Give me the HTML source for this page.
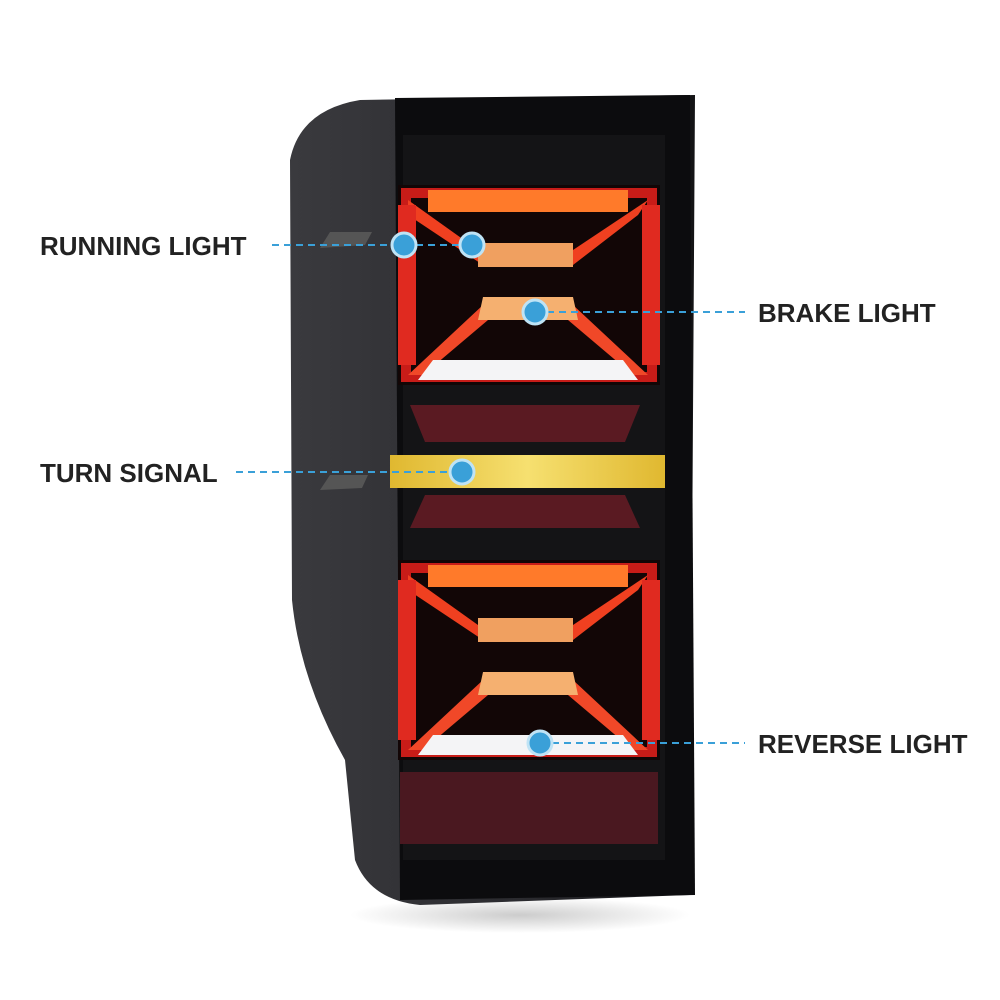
<!DOCTYPE html>
<html><head><meta charset="utf-8"><style>
html,body{margin:0;padding:0;background:#fff;width:1000px;height:1000px;overflow:hidden}
.t{position:absolute;font-family:"Liberation Sans",sans-serif;font-weight:bold;font-size:26px;color:#222;letter-spacing:0px}
</style></head><body>
<svg width="1000" height="1000" style="position:absolute;left:0;top:0">
<defs>
<radialGradient id="sh" cx="0.5" cy="0.5" r="0.5"><stop offset="0" stop-color="#ccc"/><stop offset="1" stop-color="#fff"/></radialGradient>
<linearGradient id="side" x1="0" x2="1"><stop offset="0" stop-color="#3a3a3e"/><stop offset="0.6" stop-color="#2a2a2e"/><stop offset="1" stop-color="#141416"/></linearGradient>
<linearGradient id="yel" x1="0" x2="1"><stop offset="0" stop-color="#e0b830"/><stop offset="0.5" stop-color="#f6e070"/><stop offset="1" stop-color="#e0b830"/></linearGradient>
<g id="xmod">
 <rect x="0" y="0" width="262" height="200" fill="#120606"/>
 <path d="M8 8 L254 8 L254 192 L8 192 Z" fill="none" stroke="#c81c18" stroke-width="10"/>
 <rect x="30" y="5" width="200" height="22" fill="#ff7a2a"/>
 <path d="M10 15 L80 65 L175 65 L250 15 L240 30 L175 80 L85 80 L10 30Z" fill="#f04020"/>
 <path d="M80 58 L175 58 L175 82 L80 82Z" fill="#f0a060"/>
 <path d="M10 190 L85 120 L175 120 L250 190 L235 190 L170 135 L90 135 L25 190Z" fill="#f04828"/>
 <path d="M85 112 L175 112 L180 135 L80 135Z" fill="#f5b070"/>
 <path d="M35 175 L225 175 L240 195 L20 195Z" fill="#f4f4f6"/>
 <rect x="0" y="20" width="18" height="160" fill="#e02a20"/>
 <rect x="244" y="20" width="18" height="160" fill="#e02a20"/>
</g>
</defs>
<ellipse cx="520" cy="915" rx="170" ry="18" fill="url(#sh)"/>
<path d="M360 100 Q300 110 290 160 L292 600 Q300 680 345 760 L355 860 Q370 900 420 905 L690 895 L695 95 Z" fill="url(#side)"/>
<path d="M395 98 L690 95 L695 895 L400 900 Z" fill="#0c0c0e"/>
<rect x="403" y="135" width="262" height="725" fill="#141416"/>
<use href="#xmod" x="398" y="185"/>
<use href="#xmod" x="398" y="560"/>
<path d="M410 405 L640 405 L625 442 L425 442Z" fill="#5a1a22"/>
<path d="M425 495 L625 495 L640 528 L410 528Z" fill="#5a1a22"/>
<rect x="390" y="455" width="275" height="33" fill="url(#yel)"/>
<rect x="400" y="772" width="258" height="72" fill="#4a1820"/>
<path d="M330 232 L372 232 L365 245 L320 248Z" fill="#555"/>
<path d="M330 475 L368 475 L362 488 L320 490Z" fill="#555"/>
<g stroke="#3aa0d8" stroke-width="2" stroke-dasharray="7,5">
<line x1="272" y1="245" x2="472" y2="245"/>
<line x1="535" y1="312" x2="745" y2="312"/>
<line x1="236" y1="472" x2="462" y2="472"/>
<line x1="540" y1="743" x2="745" y2="743"/>
</g>
<g fill="#3aa0d8" stroke="#bfe3f5" stroke-width="3">
<circle cx="404" cy="245" r="12"/><circle cx="472" cy="245" r="12"/>
<circle cx="535" cy="312" r="12"/><circle cx="462" cy="472" r="12"/>
<circle cx="540" cy="743" r="12"/>
</g>
</svg>
<div class="t" style="left:40px;top:231px">RUNNING LIGHT</div>
<div class="t" style="left:758px;top:298px">BRAKE LIGHT</div>
<div class="t" style="left:40px;top:458px">TURN SIGNAL</div>
<div class="t" style="left:758px;top:729px">REVERSE LIGHT</div>
</body></html>
